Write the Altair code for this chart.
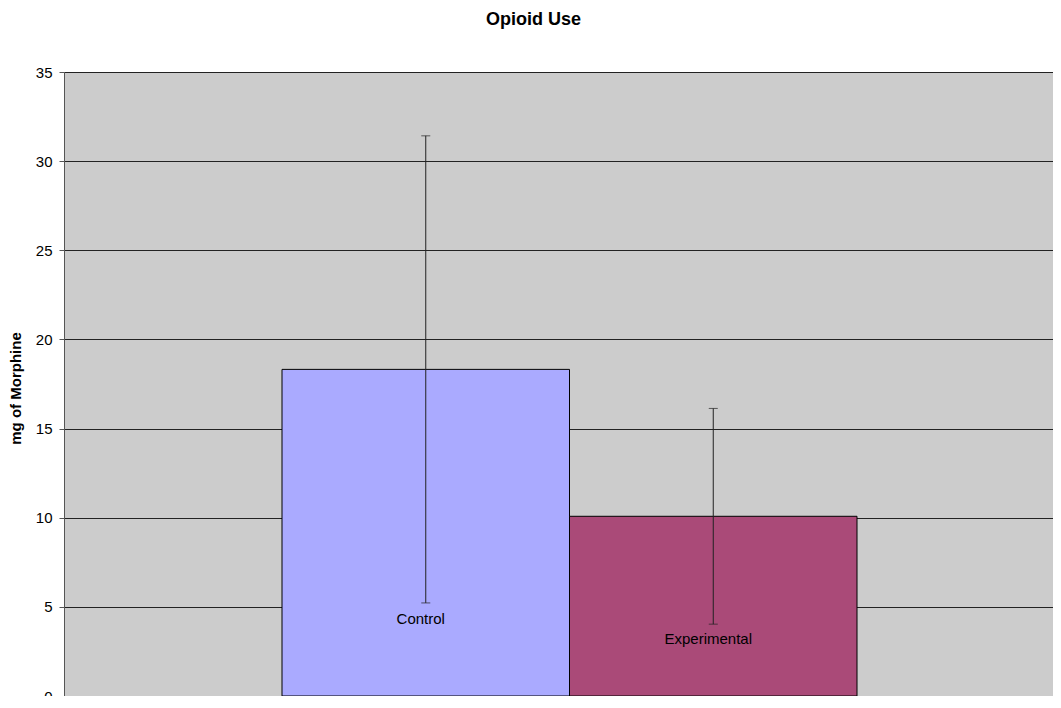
import altair as alt
import pandas as pd

groups = ["Control", "Experimental"]
means = [18.32, 10.08]
errors = [13.1, 6.05]
label_y = [4.3, 3.2]
colors = ["#AAAAFF", "#AA4A78"]
y_ticks = [0, 5, 10, 15, 20, 25, 30, 35]

df = pd.DataFrame({
    "group": groups,
    "mean": means,
    "lo": [m - e for m, e in zip(means, errors)],
    "hi": [m + e for m, e in zip(means, errors)],
    "label_y": label_y,
})

FONT = "Liberation Sans"

x_scale = alt.Scale(paddingInner=0, paddingOuter=0.72, align=0.5266)

x_enc = alt.X(
    "group:N",
    sort=groups,
    scale=x_scale,
    axis=alt.Axis(labels=False, ticks=False, title=None, domain=True,
                  domainColor="#333333", grid=False),
)

y_scale = alt.Scale(domain=[0, 35], nice=False, zero=True)

bars = alt.Chart(df).mark_bar(stroke="#000000", strokeWidth=1).encode(
    x=x_enc,
    y=alt.Y(
        "mean:Q",
        scale=y_scale,
        axis=alt.Axis(
            values=y_ticks,
            title="mg of Morphine",
            titleFont=FONT,
            titleFontSize=15,
            titleFontWeight="bold",
            titleColor="#000000",
            titleAngle=270,
            titleAlign="center",
            titleBaseline="alphabetic",
            titleX=-44,
            titleY=316,
            labelFont=FONT,
            labelFontSize=15,
            labelColor="#000000",
            labelPadding=7,
            tickSize=5,
            tickColor="#555555",
            domainColor="#555555",
            grid=True,
            gridColor="#222222",
            gridWidth=1,
        ),
    ),
    color=alt.Color("group:N", scale=alt.Scale(domain=groups, range=colors), legend=None),
)

rules = alt.Chart(df).mark_rule(color="#222222", strokeWidth=1).encode(
    x=alt.X("group:N", sort=groups),
    y=alt.Y("lo:Q", scale=y_scale),
    y2="hi:Q",
)

caps_hi = alt.Chart(df).mark_tick(color="#222222", thickness=1, size=9).encode(
    x=alt.X("group:N", sort=groups),
    y=alt.Y("hi:Q", scale=y_scale),
)
caps_lo = alt.Chart(df).mark_tick(color="#222222", thickness=1, size=9).encode(
    x=alt.X("group:N", sort=groups),
    y=alt.Y("lo:Q", scale=y_scale),
)

labels = alt.Chart(df).mark_text(
    font=FONT, fontSize=15, color="#000000", baseline="middle", align="center", dx=-5
).encode(
    x=alt.X("group:N", sort=groups),
    y=alt.Y("label_y:Q", scale=y_scale),
    text="group:N",
)

chart = alt.layer(bars, rules, caps_hi, caps_lo, labels).properties(
    width=989,
    height=624,
    title=alt.TitleParams(
        "Opioid Use",
        font=FONT,
        fontSize=18,
        fontWeight="bold",
        color="#000000",
        anchor="middle",
        frame="group",
        baseline="alphabetic",
        offset=22,
        dx=-25,
    ),
    padding={"left": 56, "top": 64, "right": 0, "bottom": 0},
    autosize=alt.AutoSizeParams(type="none"),
).configure(
    background="#FFFFFF"
).configure_view(
    fill="#CCCCCC", stroke=None
)

chart.save("out.html", embed_options={"renderer": "svg", "actions": False})
